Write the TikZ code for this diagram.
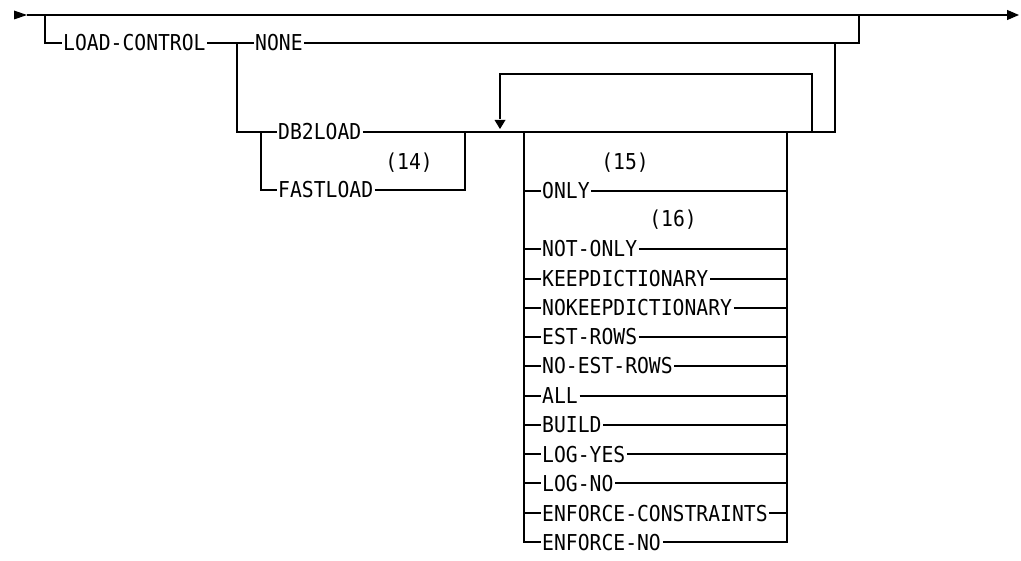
\documentclass[tikz,border=0pt]{standalone}
\usepackage{fontspec}
\usetikzlibrary{arrows.meta}
\newfontfamily\kwfont[FakeStretch=0.9]{DejaVu Sans Mono}
\begin{document}
\begin{tikzpicture}[x=1pt,y=-1pt,
  rr/.style={line width=1.2pt, line join=miter},
  kw/.style={font=\kwfont\fontsize{21.9pt}{24pt}\selectfont, inner xsep=1.5pt, inner ysep=0pt, text height=16pt, text depth=0pt, anchor=west},
  note/.style={font=\kwfont\fontsize{21.9pt}{24pt}\selectfont, inner sep=0pt, text height=16pt, text depth=0pt, anchor=center},
  tip/.style={-{Triangle[length=12pt,width=10pt]}}
]
\useasboundingbox (0,0) rectangle (1021,561);
% main line
\coordinate (start) at (27,15);
\coordinate (endp) at (1019,15);
\coordinate (dropA) at (45,15);
\coordinate (rtop) at (859,15);
\fill (14,10.5) -- (27,15) -- (14,19.5) -- cycle;
\draw[rr,tip] (start) -- (endp);
% LOAD-CONTROL branch
\node[kw] (lc) at (61.5,43) {LOAD-CONTROL};
\node[kw] (none) at (253.5,43) {NONE};
\coordinate (j1) at (237,43);
\coordinate (r1) at (859,43);
\draw[rr] (dropA) |- (lc.west);
\draw[rr] (lc.east) -- (none.west);
\draw[rr] (none.east) -- (r1) -- (rtop);
% DB2LOAD / FASTLOAD
\node[kw] (db2) at (276.5,132) {DB2LOAD};
\node[kw] (fast) at (276.5,190) {FASTLOAD};
\node[note] (n14) at (409,162) {(14)};
\coordinate (j3) at (261,132);
\coordinate (fr) at (465,190);
\coordinate (fu) at (465,132);
\draw[rr] (j1) |- (db2.west);
\draw[rr] (j3) |- (fast.west);
\draw[rr] (fast.east) -- (fr) -- (fu);
% line y=132 to right
\coordinate (eR) at (835,132);
\coordinate (eRu) at (835,43);
\draw[rr] (db2.east) -- (eR) -- (eRu);
% repeat loop
\coordinate (lpR) at (812,132);
\coordinate (lpRT) at (812,74);
\coordinate (lpLT) at (500,74);
\coordinate (lpTip) at (500,129);
\draw[rr] (lpR) -- (lpRT) -- (lpLT) -- (500,119);
\fill (494.5,120) -- (505.5,120) -- (lpTip) -- cycle;
% stack
\coordinate (sl) at (524,132);
\coordinate (sr) at (787,132);
\node[kw] (k1) at (540.5,191) {ONLY};
\node[kw] (k2) at (540.5,249) {NOT-ONLY};
\node[kw] (k3) at (540.5,279) {KEEPDICTIONARY};
\node[kw] (k4) at (540.5,308) {NOKEEPDICTIONARY};
\node[kw] (k5) at (540.5,337) {EST-ROWS};
\node[kw] (k6) at (540.5,366) {NO-EST-ROWS};
\node[kw] (k7) at (540.5,396) {ALL};
\node[kw] (k8) at (540.5,425) {BUILD};
\node[kw] (k9) at (540.5,454) {LOG-YES};
\node[kw] (k10) at (540.5,483) {LOG-NO};
\node[kw] (k11) at (540.5,513) {ENFORCE-CONSTRAINTS};
\node[kw] (k12) at (540.5,542) {ENFORCE-NO};
\node[note] (n15) at (625,162) {(15)};
\node[note] (n16) at (673,219) {(16)};
\draw[rr] (sl) |- (k12.west);
\draw[rr] (sr) |- (k12.east);
\foreach \k in {k1,k2,k3,k4,k5,k6,k7,k8,k9,k10,k11}{
  \draw[rr] (\k.west -| sl) -- (\k.west);
  \draw[rr] (\k.east) -- (\k.east -| sr);
}
\end{tikzpicture}
\end{document}
